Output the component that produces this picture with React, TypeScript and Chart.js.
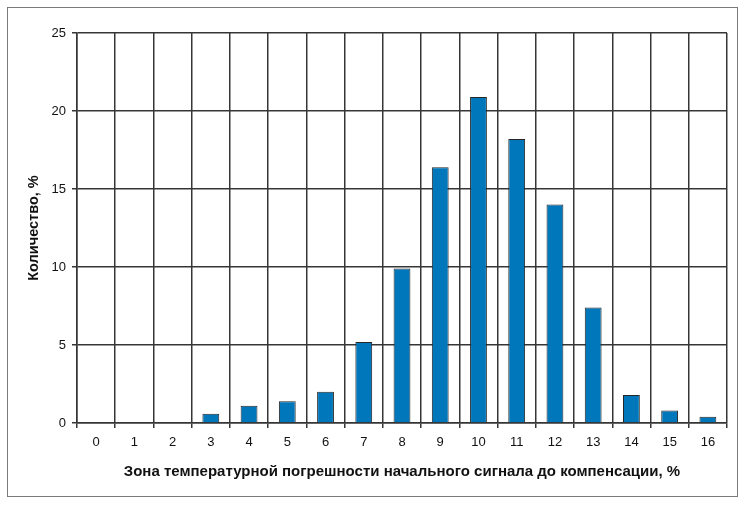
import { useEffect, useRef } from 'react';
import Chart from 'chart.js/auto';

const zones = ['0', '1', '2', '3', '4', '5', '6', '7', '8', '9', '10', '11', '12', '13', '14', '15', '16'];
const shares = [0, 0, 0, 0.6, 1.1, 1.4, 2.0, 5.2, 9.9, 16.4, 20.9, 18.2, 14.0, 7.4, 1.8, 0.8, 0.4];
const yTicks = [0, 5, 10, 15, 20, 25];

const FONT = '"Liberation Sans", Arial, sans-serif';
const GRID = '#363636';

const App = () => {
    const chartRef = useRef<HTMLCanvasElement | null>(null);
    const chartInstance = useRef<Chart<'bar', number[], string> | null>(null);

    useEffect(() => {
        document.body.style.margin = '0';
        if (chartRef.current) {
            if (chartInstance.current) {
                chartInstance.current.destroy();
            }

            chartInstance.current = new Chart(chartRef.current, {
                type: 'bar',
                data: {
                    labels: zones,
                    datasets: [{
                        data: shares,
                        backgroundColor: '#0077bb',
                        borderColor: '#262626',
                        borderWidth: 1,
                        barPercentage: 0.44,
                        categoryPercentage: 1,
                    }],
                },
                options: {
                    animation: false,
                    responsive: false,
                    layout: {
                        padding: { left: 22, right: 23, top: 33, bottom: 24 },
                    },
                    plugins: {
                        legend: { display: false },
                        tooltip: { enabled: false },
                    },
                    scales: {
                        x: {
                            offset: true,
                            grid: {
                                offset: true,
                                color: GRID,
                                lineWidth: 1.5,
                                tickLength: 5,
                            },
                            border: { color: GRID, width: 1.5 },
                            ticks: {
                                color: '#111',
                                padding: 7,
                                font: { family: FONT, size: 13 },
                            },
                            title: {
                                display: true,
                                text: 'Зона температурной погрешности начального сигнала до компенсации, %',
                                color: '#111',
                                padding: { top: 4, bottom: 2 },
                                font: { family: FONT, size: 15, weight: 'bold' },
                            },
                            afterFit: (scale) => {
                                scale.height = 60;
                            },
                        },
                        y: {
                            min: 0,
                            max: 25,
                            afterBuildTicks: (scale) => {
                                scale.ticks = yTicks.map((v) => ({ value: v }));
                            },
                            grid: {
                                color: GRID,
                                lineWidth: 1.5,
                                tickLength: 5,
                            },
                            border: { color: GRID, width: 1.5 },
                            ticks: {
                                color: '#111',
                                padding: 6,
                                font: { family: FONT, size: 13 },
                            },
                            title: {
                                display: true,
                                text: 'Количество, %',
                                color: '#111',
                                padding: { top: 3, bottom: 3 },
                                font: { family: FONT, size: 14.5, weight: 'bold' },
                            },
                            afterFit: (scale) => {
                                scale.width = 55;
                            },
                        },
                    },
                },
            });
        }

        return () => {
            if (chartInstance.current) {
                chartInstance.current.destroy();
            }
        };
    }, []);

    return (
        <div style={{ position: 'relative', width: 750, height: 507, background: '#fff' }}>
            <canvas ref={chartRef} width={750} height={507}></canvas>
            <div
                style={{
                    position: 'absolute',
                    left: 7,
                    top: 7,
                    width: 729,
                    height: 488,
                    border: '1px solid #7a7a7a',
                    pointerEvents: 'none',
                }}
            ></div>
        </div>
    );
};

export default App;
